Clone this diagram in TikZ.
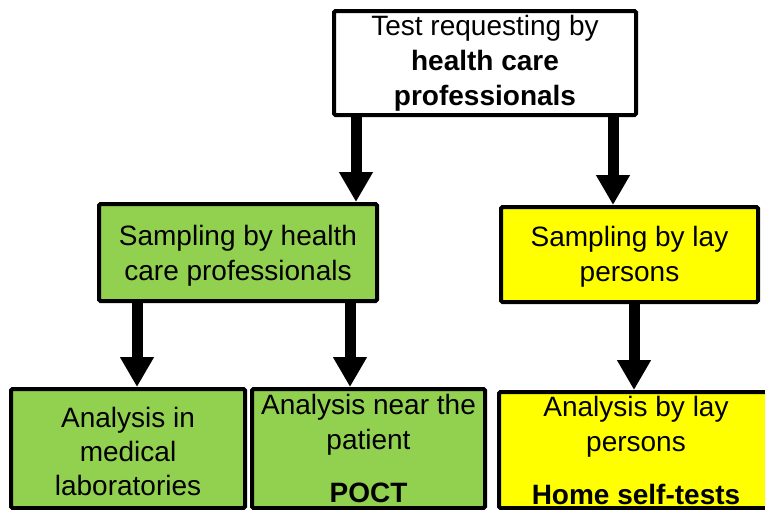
\documentclass[tikz,border=0pt]{standalone}
\usepackage{fontspec}
\setmainfont{Liberation Sans}
\usetikzlibrary{arrows.meta}
\definecolor{leafgreen}{HTML}{92D050}
\definecolor{brightyellow}{HTML}{FFFF00}

\begin{document}
\begin{tikzpicture}[x=1pt,y=-1pt,
  box/.style={draw=black, line width=4pt, rounded corners=1.5pt, inner sep=0pt,
    align=center, font=\fontsize{28}{35}\selectfont},
  flow/.style={line width=11pt, -{Triangle[width=32pt,length=30pt]}}]
\useasboundingbox (0,0) rectangle (765,509);

% boxes
\node[box, fill=white, minimum width=302pt, minimum height=104pt] (request) at (485,63)
  {Test requesting by\\\textbf{health care}\\\textbf{professionals}};
\node[box, fill=leafgreen, minimum width=278pt, minimum height=97pt] (hcpsample) at (238,252.5)
  {\rule{0pt}{26pt}Sampling by health\\care professionals};
\node[box, fill=brightyellow, minimum width=257pt, minimum height=95pt] (laysample) at (629.5,254.5)
  {\rule{0pt}{25pt}Sampling by lay\\persons};
\node[box, fill=leafgreen, minimum width=234pt, minimum height=119pt,
  font=\fontsize{28}{34}\selectfont] (lab) at (128,448.5)
  {\rule{0pt}{27pt}Analysis in\\medical\\laboratories};
\node[box, fill=leafgreen, minimum width=233pt, minimum height=119pt] (poct) at (368.5,448.5)
  {Analysis near the\\patient\\[18pt]\textbf{POCT}};
\node[box, fill=brightyellow, minimum width=274pt, minimum height=116pt] (home) at (636,450)
  {Analysis by lay\\persons\\[18pt]\textbf{Home self-tests}};

% arrow columns
\coordinate (colA) at (356,0);
\coordinate (colB) at (613,0);
\coordinate (colC) at (137,0);
\coordinate (colD) at (350,0);
\coordinate (colE) at (634,0);

% arrows
\draw[flow] (request.south -| colA) -- (hcpsample.north -| colA);
\draw[flow] (request.south -| colB) -- (laysample.north -| colB);
\draw[flow] (hcpsample.south -| colC) -- (lab.north -| colC);
\draw[flow] (hcpsample.south -| colD) -- (poct.north -| colD);
\draw[flow] (laysample.south -| colE) -- (home.north -| colE);
\end{tikzpicture}
\end{document}
